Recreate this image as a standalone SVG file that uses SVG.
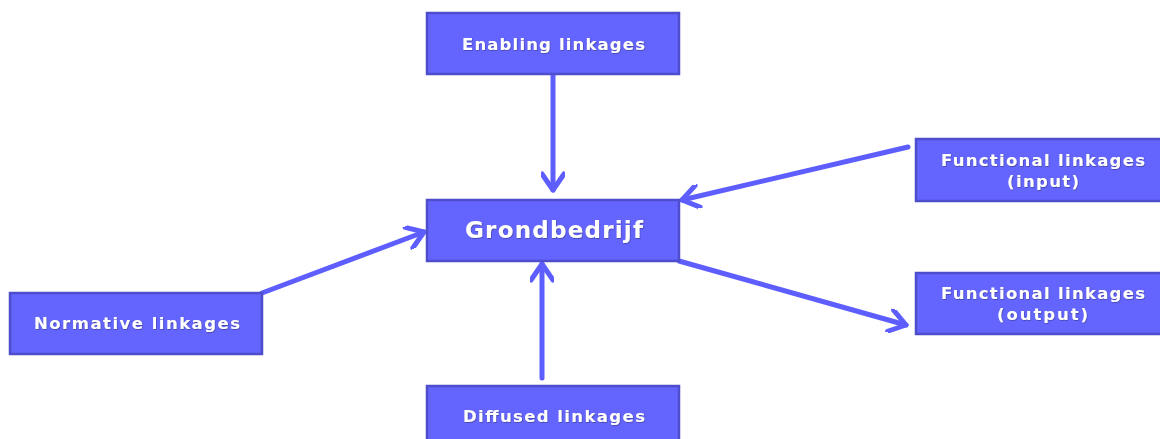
<svg xmlns="http://www.w3.org/2000/svg" width="1160" height="439" viewBox="0 0 1160 439">
<style>
.box{fill:#6464FF;stroke:#4E4ECC;stroke-width:2.5}
.lbl{font-family:"DejaVu Sans","Open Sans",sans-serif;font-weight:bold;fill:#FFFFFF;font-size:16.5px;text-anchor:middle}
.big{font-size:23px}
.con{fill:none;stroke:#5E5EFF;stroke-width:5;stroke-linecap:round;stroke-linejoin:round}
</style>
<defs>
<filter id="sh" x="-10%" y="-30%" width="120%" height="160%">
<feDropShadow dx="0.6" dy="0.8" stdDeviation="0.4" flood-color="#3a3a90" flood-opacity="0.8"/>
</filter>
<marker id="ah" viewBox="-20 -12 24 24" markerWidth="24" markerHeight="24" refX="0" refY="0" orient="auto" markerUnits="userSpaceOnUse">
<path d="M-16,-11 L0,0 L-16,11" fill="none" stroke="#5E5EFF" stroke-width="5" stroke-linecap="round" stroke-linejoin="round"/>
</marker>
</defs>
<g id="connectors">
<line class="con" x1="553" y1="74" x2="553" y2="190" marker-end="url(#ah)"/>
<line class="con" x1="908" y1="147" x2="682" y2="200" marker-end="url(#ah)"/>
<line class="con" x1="679" y1="261" x2="906" y2="325" marker-end="url(#ah)"/>
<line class="con" x1="262" y1="293" x2="424" y2="232" marker-end="url(#ah)"/>
<line class="con" x1="542" y1="378" x2="542" y2="264" marker-end="url(#ah)"/>
</g>
<g id="enabling">
<rect class="box" x="427" y="13" width="252" height="61"/>
<text class="lbl" x="553.5" y="50" textLength="183" lengthAdjust="spacing" filter="url(#sh)">Enabling linkages</text>
</g>
<g id="grondbedrijf">
<rect class="box" x="427" y="200" width="252" height="61"/>
<text class="lbl big" x="554" y="238" textLength="178" lengthAdjust="spacing" filter="url(#sh)">Grondbedrijf</text>
</g>
<g id="functional-input">
<rect class="box" x="916" y="139" width="250" height="62"/>
<text class="lbl" x="1043" y="166" textLength="204" lengthAdjust="spacing" filter="url(#sh)">Functional linkages</text>
<text class="lbl" x="1043" y="187" textLength="72" lengthAdjust="spacing" filter="url(#sh)">(input)</text>
</g>
<g id="functional-output">
<rect class="box" x="916" y="273" width="250" height="61"/>
<text class="lbl" x="1043" y="299" textLength="204" lengthAdjust="spacing" filter="url(#sh)">Functional linkages</text>
<text class="lbl" x="1042.5" y="320" textLength="91" lengthAdjust="spacing" filter="url(#sh)">(output)</text>
</g>
<g id="normative">
<rect class="box" x="10" y="293" width="252" height="61"/>
<text class="lbl" x="137" y="329" textLength="206" lengthAdjust="spacing" filter="url(#sh)">Normative linkages</text>
</g>
<g id="diffused">
<rect class="box" x="427" y="386" width="252" height="70"/>
<text class="lbl" x="554" y="422" textLength="182" lengthAdjust="spacing" filter="url(#sh)">Diffused linkages</text>
</g>
</svg>
